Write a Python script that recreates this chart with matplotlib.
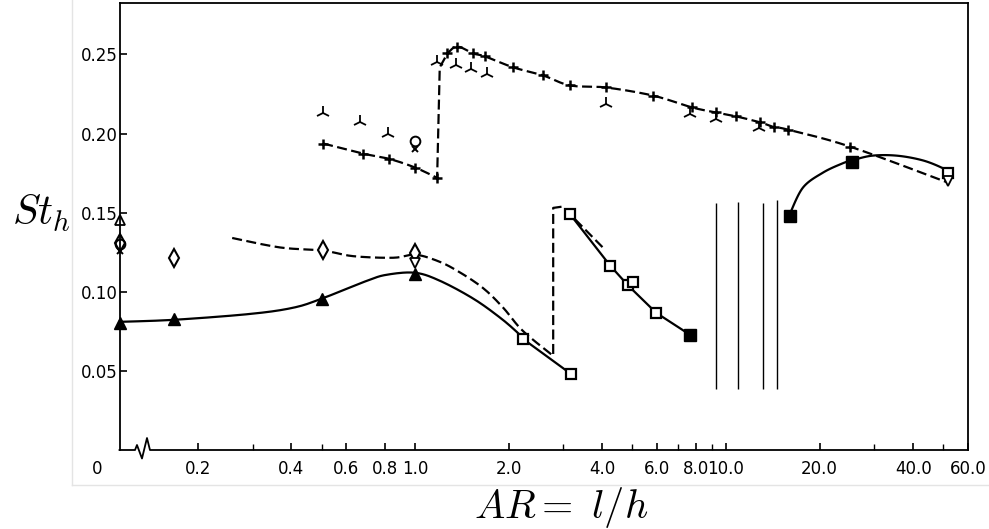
import numpy as np
import matplotlib
matplotlib.use("Agg")
import matplotlib.pyplot as plt
from matplotlib.lines import Line2D

plt.rcParams['font.family'] = ['DejaVu Sans']
plt.rcParams['mathtext.fontset'] = 'cm'

# ---------------- data ----------------
AR_ORIGIN = 0.112   # where AR = 0 sits on the broken log axis

# filled triangles (solid curve)
tri_ar = [0, 0.168, 0.50, 1.0]
tri_st = [0.0804, 0.0829, 0.0956, 0.1114]
tri_curve_ar = [0, 0.168, 0.295, 0.405, 0.50, 0.701, 0.813, 1.0, 1.20, 1.54, 1.88, 2.14, 2.22, 3.17]
tri_curve_st = [0.081, 0.0823, 0.086, 0.0899, 0.0956, 0.107, 0.1108, 0.112, 0.107, 0.0956,
                0.0835, 0.074, 0.0703, 0.0481]

# open diamonds (dashed curve)
dia_ar = [0, 0.168, 0.506, 1.0]
dia_st = [0.131, 0.1215, 0.1266, 0.1247]
dia_curve_ar = [0.258, 0.368, 0.506, 0.632, 0.850, 1.0, 1.177, 1.365, 1.65, 1.92, 2.22,
                2.78, 2.78, 2.97, 3.15, 4.08]
dia_curve_st = [0.134, 0.128, 0.126, 0.1225, 0.1215, 0.1234, 0.1196, 0.1133, 0.1025, 0.0899,
                0.0753, 0.0595, 0.153, 0.1538, 0.149, 0.1266]

# open squares
sq_open_ar = [2.22, 3.17, 3.15, 4.24, 4.84, 5.02, 5.96, 51.7]
sq_open_st = [0.0703, 0.0481, 0.149, 0.1165, 0.104, 0.106, 0.0867, 0.175]
sq_line_ar = [3.15, 4.24, 4.84, 5.96, 7.66]
sq_line_st = [0.149, 0.1165, 0.104, 0.0867, 0.0728]

# filled squares
sq_fill_ar = [7.66, 16.1, 25.4]
sq_fill_st = [0.0728, 0.148, 0.182]
fill_curve_ar = [16.1, 17.7, 20.5, 23.6, 25.4, 29.5, 35.5, 43.0, 49.9, 51.7]
fill_curve_st = [0.150, 0.166, 0.1753, 0.181, 0.183, 0.186, 0.186, 0.183, 0.178, 0.1753]

# plus series (dashed curve)
plus_curve_ar = [0.506, 0.681, 0.825, 1.0, 1.177, 1.20, 1.27, 1.365, 1.54, 1.68, 2.07, 2.58,
                 3.15, 4.11, 5.82, 7.78, 9.29, 10.8, 12.9, 14.3, 15.8, 25.0, 51.7]
plus_curve_st = [0.1937, 0.1873, 0.184, 0.1785, 0.172, 0.2418, 0.2506, 0.255, 0.2506, 0.2487,
                 0.2418, 0.2367, 0.2304, 0.2291, 0.224, 0.2165, 0.2133, 0.2108, 0.207, 0.204,
                 0.2025, 0.1918, 0.169]
plus_ar = [0.506, 0.681, 0.825, 1.0, 1.177, 1.27, 1.365, 1.54, 1.68, 2.07, 2.58,
           3.15, 4.11, 5.82, 7.78, 9.29, 10.8, 12.9, 14.3, 15.8, 25.0]
plus_st = [0.1937, 0.1873, 0.184, 0.1785, 0.172, 0.2506, 0.255, 0.2506, 0.2487,
           0.2418, 0.2367, 0.2304, 0.2291, 0.224, 0.2165, 0.2133, 0.2108, 0.207, 0.204,
           0.2025, 0.1918]

# tri-up markers
y_ar = [0.506, 0.665, 0.819, 1.18, 1.35, 1.51, 1.70, 4.11, 7.65, 9.29, 12.8]
y_st = [0.213, 0.2075, 0.1995, 0.245, 0.2435, 0.2405, 0.2375, 0.2185, 0.2125, 0.2095, 0.2035]

# isolated markers
open_tri_ar, open_tri_st = [0], [0.1456]
circ_ar, circ_st = [0, 1.0], [0.130, 0.1956]
x_ar, x_st = [0, 1.0], [0.126, 0.1905]
inv_ar, inv_st = [1.0, 51.7], [0.118, 0.170]

# vertical lines
vl_ar = [9.29, 10.9, 13.1, 14.6]
vl_lo = [0.0386, 0.0386, 0.0386, 0.0386]
vl_hi = [0.156, 0.157, 0.156, 0.158]

# axis
x_ticks = [0.2, 0.4, 0.6, 0.8, 1.0, 2.0, 4.0, 6.0, 8.0, 10.0, 20.0, 40.0, 60.0]
x_labels = ['0.2', '0.4', '0.6', '0.8', '1.0', '2.0', '4.0', '6.0', '8.0', '10.0', '20.0', '40.0', '60.0']
x_minor = [0.3, 0.5, 3.0, 5.0, 7.0, 9.0, 30.0, 50.0]
y_ticks = [0.05, 0.10, 0.15, 0.20, 0.25]
y_labels = ['0.05', '0.10', '0.15', '0.20', '0.25']


def arx(v):
    a = np.asarray(v, dtype=float)
    return np.where(a == 0, AR_ORIGIN, a)


def smooth(ar, st, n=14):
    X = np.log10(arx(ar)) * 311.0
    Y = np.asarray(st, dtype=float) * 1580.0
    P = np.column_stack([X, Y])
    P = np.vstack([P[0], P, P[-1]])
    out = []
    t = np.linspace(0, 1, n, endpoint=False)[:, None]
    for i in range(1, len(P) - 2):
        p0, p1, p2, p3 = P[i - 1], P[i], P[i + 1], P[i + 2]
        out.append(0.5 * (2 * p1 + (-p0 + p2) * t + (2 * p0 - 5 * p1 + 4 * p2 - p3) * t ** 2
                          + (-p0 + 3 * p1 - 3 * p2 + p3) * t ** 3))
    out.append(P[-2][None])
    Q = np.vstack(out)
    return 10 ** (Q[:, 0] / 311.0), Q[:, 1] / 1580.0


def path(ar, st, pieces):
    """pieces: list of (start, stop, smooth?) index ranges, inclusive stop."""
    xs, ys = [], []
    for a, b, sm in pieces:
        seg_a, seg_s = ar[a:b + 1], st[a:b + 1]
        if sm:
            px, py = smooth(seg_a, seg_s)
        else:
            px, py = arx(seg_a), np.asarray(seg_s, float)
        xs.append(px)
        ys.append(py)
    return np.concatenate(xs), np.concatenate(ys)


W, H = 989, 529
fig = plt.figure(figsize=(W / 100, H / 100), dpi=100)
ax = fig.add_axes([119.5 / W, (H - 450) / H, (968 - 119.5) / W, (450 - 3) / H])
ax.set_xscale('log')
ax.set_xlim(AR_ORIGIN, 60.0)
ax.set_ylim(0, 0.2825)

LW = 1.6
dash = (4.5, 2.0)
K = dict(color='black', clip_on=False)

# curves
cx, cy = path(tri_curve_ar, tri_curve_st, [(0, 12, True), (12, 13, False)])
ax.plot(cx, cy, lw=LW, **K)
cx, cy = path(dia_curve_ar, dia_curve_st, [(0, 11, True), (11, 15, False)])
ax.plot(cx, cy, lw=LW, dashes=dash, **K)
ax.plot(arx(sq_line_ar), sq_line_st, lw=LW, **K)
cx, cy = path(fill_curve_ar, fill_curve_st, [(0, 9, True)])
ax.plot(cx, cy, lw=LW, **K)
cx, cy = path(plus_curve_ar, plus_curve_st, [(0, 4, True), (4, 6, False), (6, 22, True)])
ax.plot(cx, cy, lw=LW, dashes=dash, **K)
ax.vlines(vl_ar, vl_lo, vl_hi, colors='black', lw=1.0)

# markers
ax.plot(arx(tri_ar), tri_st, ls='none', marker='^', ms=8, mfc='black', mec='black', **K)
ax.plot(arx(dia_ar), dia_st, ls='none', marker='d', ms=9, mfc='white', mec='black', mew=1.5, **K)
ax.plot(arx(sq_open_ar), sq_open_st, ls='none', marker='s', ms=7.5, mfc='white', mec='black', mew=1.6, **K)
ax.plot(arx(sq_fill_ar), sq_fill_st, ls='none', marker='s', ms=8, mfc='black', mec='black', **K)
ax.plot(arx(plus_ar), plus_st, ls='none', marker='+', ms=7, mew=1.8, **K)
ax.plot(arx(y_ar), y_st, ls='none', marker='2', ms=10, mew=1.3, **K)
ax.plot(arx(open_tri_ar), open_tri_st, ls='none', marker='^', ms=7, mfc='white', mec='black', mew=1.3, **K)
ax.plot(arx(circ_ar), circ_st, ls='none', marker='o', ms=7, mfc='none', mec='black', mew=1.4, **K)
ax.plot(arx(x_ar), x_st, ls='none', marker='x', ms=5, mew=1.4, **K)
ax.plot(arx(inv_ar), inv_st, ls='none', marker='v', ms=7, mfc='white', mec='black', mew=1.3, **K)

# ticks
ax.set_xticks(x_ticks)
ax.set_xticklabels(x_labels)
ax.set_xticks(x_minor, minor=True)
ax.xaxis.set_minor_formatter(plt.NullFormatter())
ax.set_yticks(y_ticks)
ax.set_yticklabels(y_labels)
ax.tick_params(axis='both', which='major', direction='in', length=5, width=1.2,
               labelsize=12, color='black')
ax.tick_params(axis='x', which='major', pad=7)
ax.tick_params(axis='x', which='minor', direction='in', length=4, width=1.0)
ax.tick_params(axis='y', which='major', pad=1)
ax.tick_params(axis='y', which='minor', left=False)
for s in ['left', 'top', 'right']:
    ax.spines[s].set_linewidth(1.3)
ax.spines['bottom'].set_visible(False)

# broken baseline with zig-zag near the origin
bx = [0.0, 0.0183, 0.0206, 0.0265, 0.0324, 0.0359, 1.0]
by = [0.0, 0.0, 0.0112, -0.019, 0.0268, 0.0, 0.0]
ax.plot(bx, by, transform=ax.transAxes, color='black', lw=1.3, clip_on=False)

ax.annotate('0', xy=(-0.0265, 0), xycoords='axes fraction', xytext=(0, -7),
            textcoords='offset points', ha='center', va='top', fontsize=12)

# axis titles
fig.text(12 / W, 1 - 225 / H, r'$St_h$', ha='left', va='baseline', fontsize=30)
fig.text(561 / W, 1 - 518 / H, r'$AR{=}\ l/h$', ha='center', va='baseline', fontsize=29)

# faint scan border
fig.add_artist(Line2D([72 / W, 72 / W], [1 - 485 / H, 1], color='#e4e4e4', lw=1))
fig.add_artist(Line2D([72 / W, 1], [1 - 485 / H, 1 - 485 / H], color='#e4e4e4', lw=1))

fig.savefig('out.png', dpi=100, facecolor='white')
